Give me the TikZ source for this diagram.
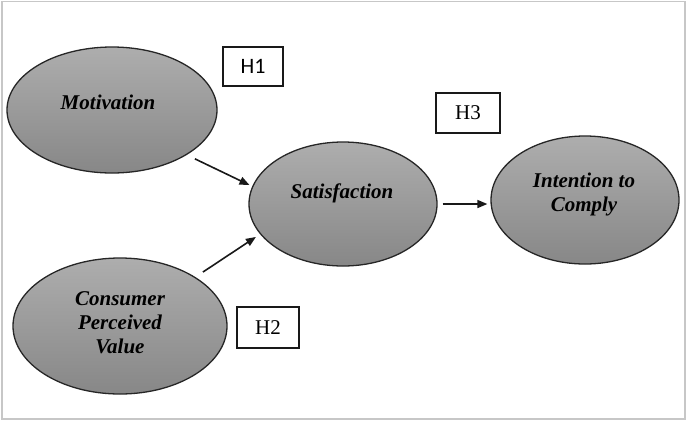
\documentclass[tikz,border=0pt]{standalone}
\usepackage{fontspec}
\setmainfont{Liberation Serif}
\newfontfamily\calibrifont{Carlito}
\usetikzlibrary{shapes.geometric,arrows.meta}
\begin{document}
\begin{tikzpicture}[x=1pt,y=-1pt,
  latent/.style={ellipse, draw=black!85, line width=1.3pt, top color=black!32, bottom color=black!47, inner sep=0pt},
  lbl/.style={font=\fontsize{21}{24}\selectfont\bfseries\itshape, align=center, text=black, inner sep=0pt},
  hyp/.style={draw=black!90, line width=1.2pt, fill=white, inner sep=0pt, font=\fontsize{21}{22}\selectfont},
  arr/.style={-{Triangle[length=10pt,width=8pt]}, line width=1.6pt, draw=black!90}]
\useasboundingbox (0,0) rectangle (687,424);
\fill[white] (0,0) rectangle (687,424);
\draw[black!22, line width=1.2pt] (2,1.5) rectangle (685,419);

\node[latent, minimum width=210pt, minimum height=126pt] (mot) at (112,110) {};
\node[latent, minimum width=214pt, minimum height=136pt] (cons) at (120,326) {};
\node[latent, minimum width=188pt, minimum height=124pt] (sat) at (343,204) {};
\node[latent, minimum width=188pt, minimum height=128pt] (int) at (585,200) {};

\node[lbl, anchor=base] (motT) at (108,109) {Motivation};
\node[lbl, anchor=center] (consT) at (120,323) {Consumer\\Perceived\\Value};
\node[lbl, anchor=base] (satT) at (342,198) {Satisfaction};
\node[lbl, anchor=center] (intT) at (584,194) {Intention to\\Comply};

\node[hyp, minimum width=60pt, minimum height=39pt, font=\fontsize{22}{22}\selectfont\calibrifont] (h1) at (253,66.5) {H1};
\node[hyp, minimum width=62pt, minimum height=41pt] (h2) at (268,327.5) {H2};
\node[hyp, minimum width=64pt, minimum height=40pt] (h3) at (468,113) {H3};

\draw[arr, shorten <=9pt, shorten >=3pt] (mot.-31) -- (sat.169);
\draw[arr, shorten <=9pt, shorten >=5pt] (cons.33) -- (sat.200);
\draw[arr] ([xshift=5pt]sat.east) -- ([xshift=-3pt]sat.east -| int.west);
\end{tikzpicture}
\end{document}
